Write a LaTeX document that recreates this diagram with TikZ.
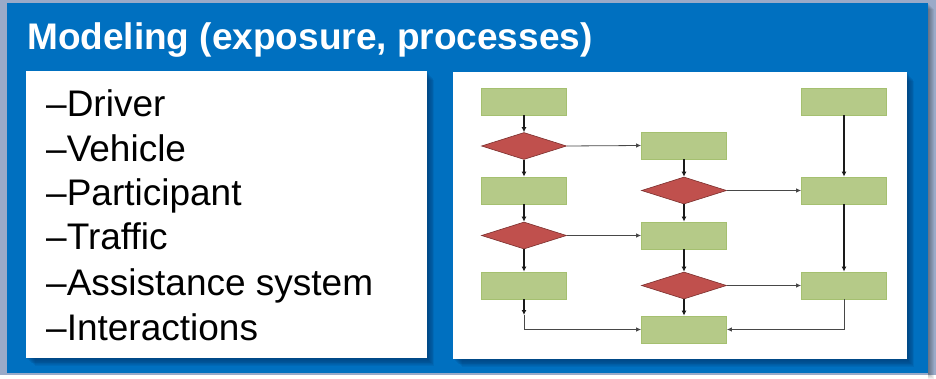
\documentclass[tikz,border=0pt]{standalone}
\usepackage{fontspec}
\setmainfont{Liberation Sans}
\usetikzlibrary{shapes.geometric,arrows.meta}

\definecolor{frame}{HTML}{9AAAC8}
\definecolor{panel}{HTML}{0070C0}
\definecolor{shade}{HTML}{00396E}
\definecolor{boxfill}{HTML}{B5CA88}
\definecolor{boxline}{HTML}{A5C070}
\definecolor{decfill}{HTML}{C0504D}
\definecolor{decline}{HTML}{7A2E2C}
\definecolor{wire}{HTML}{1A1A1A}

\tikzset{
  procbox/.style={rectangle, fill=boxfill, draw=boxline, line width=0.8pt,
    minimum width=85pt, minimum height=27pt, inner sep=0pt},
  decision/.style={diamond, fill=decfill, draw=decline, line width=0.6pt,
    minimum width=85pt, minimum height=27pt, inner sep=0pt},
  vflow/.style={draw=wire, line width=1.3pt, -{Latex[length=5pt,width=5pt]}},
  hflow/.style={draw=wire!80, line width=0.8pt, -{Latex[length=5pt,width=4.5pt]}},
  listitem/.style={anchor=base west, inner sep=0pt, font=\fontsize{37}{40}\selectfont},
  softshadow/.style={fill=shade, fill opacity=0.11, draw=none}
}

\begin{document}
\begin{tikzpicture}[x=1pt,y=-1pt]
  % page frame and blue slide panel
  \fill[frame] (0,0) rectangle (936,375);
  \fill[panel] (7,3) rectangle (928,373);
  \foreach \i in {1,...,6}{
    \fill[black, opacity=0.06] (928,3+\i) rectangle (928+\i,373+\i);
  }
  \useasboundingbox (0,0) rectangle (936,375);

  % title
  \node[anchor=base west, inner sep=0pt, text=white,
        font=\fontsize{37}{40}\selectfont\bfseries] (title) at (27,50)
        {Modeling (exposure, processes)};

  % soft shadows under the two white panels
  \foreach \i in {1,...,9}{
    \fill[softshadow] (26+\i,71+\i) rectangle (427+\i*0.8,358+\i*0.9);
    \fill[softshadow] (453+\i,72+\i) rectangle (907+\i*0.8,359+\i*0.9);
  }

  % white panels
  \fill[white] (26,71) rectangle (427,358);
  \fill[white] (453,72) rectangle (907,359);

  % bullet list
  \node[listitem] (l1) at (46,117) {–Driver};
  \node[listitem] (l2) at (46,162) {–Vehicle};
  \node[listitem] (l3) at (46,206) {–Participant};
  \node[listitem] (l4) at (46,250) {–Traffic};
  \node[listitem] (l5) at (46,295) {–Assistance system};
  \node[listitem] (l6) at (46,340) {–Interactions};

  % flowchart nodes
  \node[procbox]  (b11) at (524,101.5) {};
  \node[procbox]  (b31) at (844,101.5) {};
  \node[decision] (d12) at (524,146) {};
  \node[procbox]  (b22) at (684,145.5) {};
  \node[procbox]  (b13) at (524,190.5) {};
  \node[decision] (d23) at (684,190.5) {};
  \node[procbox]  (b33) at (844,190.5) {};
  \node[decision] (d14) at (524,235.5) {};
  \node[procbox]  (b24) at (684,235.5) {};
  \node[procbox]  (b15) at (524,285.5) {};
  \node[decision] (d25) at (684,285.5) {};
  \node[procbox]  (b35) at (844,285.5) {};
  \node[procbox]  (b26) at (684,329.5) {};
  \coordinate (k1) at (524,315);

  % left column
  \draw[vflow] (b11) -- (d12);
  \draw[vflow] (d12) -- (b13);
  \draw[vflow] (b13) -- (d14);
  \draw[vflow] (d14) -- (b15);
  \draw[vflow] (b15) -- (k1);
  \draw[hflow] (k1) |- (b26.west);
  \draw[hflow] (d12.east) -- (b22.west);
  \draw[hflow] (d14.east) -- (b24.west);

  % middle column
  \draw[vflow] (b22) -- (d23);
  \draw[vflow] (d23) -- (b24);
  \draw[vflow] (b24) -- (d25);
  \draw[vflow] (d25) -- (b26);
  \draw[hflow] (d23.east) -- (b33.west);
  \draw[hflow] (d25.east) -- (b35.west);

  % right column
  \draw[vflow] (b31) -- (b33);
  \draw[vflow] (b33) -- (b35);
  \draw[hflow] (b35.south) |- (b26.east);
\end{tikzpicture}
\end{document}
